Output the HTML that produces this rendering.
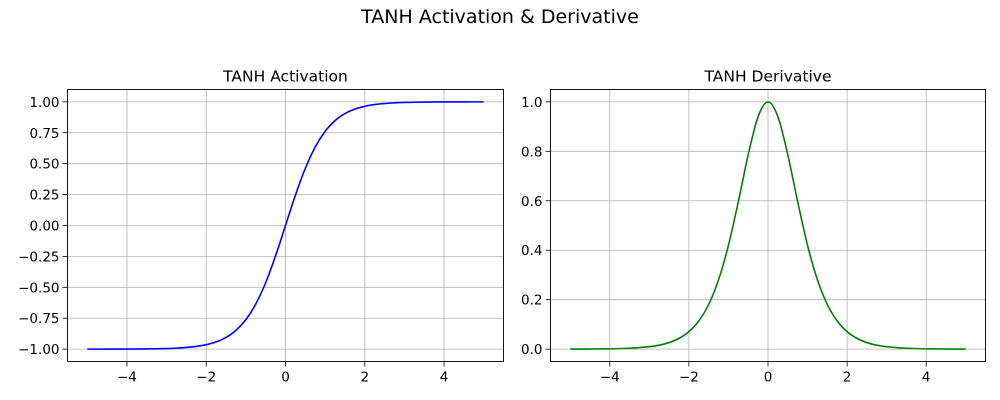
<!DOCTYPE html>
<html><head><meta charset="utf-8"><style>
html,body{margin:0;padding:0;background:#fff;}
svg{display:block;font-family:"DejaVu Sans","Liberation Sans",sans-serif;}
</style></head><body>
<svg id="fig" width="1000" height="400" viewBox="0 0 1000 400">
<text x="500" y="23" font-size="19" text-anchor="middle">TANH Activation &amp; Derivative</text>
</svg>
<script>
const xs = [-5,-4.5,-4,-3.5,-3,-2.75,-2.5,-2.25,-2,-1.75,-1.5,-1.25,-1,-0.75,-0.5,-0.25,0,0.25,0.5,0.75,1,1.25,1.5,1.75,2,2.25,2.5,2.75,3,3.5,4,4.5,5];
const tanhVals = [-0.9999,-0.9998,-0.9993,-0.9982,-0.9951,-0.9919,-0.9866,-0.9780,-0.9640,-0.9414,-0.9051,-0.8483,-0.7616,-0.6351,-0.4621,-0.2449,0,0.2449,0.4621,0.6351,0.7616,0.8483,0.9051,0.9414,0.9640,0.9780,0.9866,0.9919,0.9951,0.9982,0.9993,0.9998,0.9999];
const derivVals = [0.0002,0.0005,0.0013,0.0036,0.0099,0.0161,0.0266,0.0435,0.0707,0.1138,0.1807,0.2805,0.4200,0.5966,0.7864,0.9400,1,0.9400,0.7864,0.5966,0.4200,0.2805,0.1807,0.1138,0.0707,0.0435,0.0266,0.0161,0.0099,0.0036,0.0013,0.0005,0.0002];
const xTicks = [-4,-2,0,2,4];
const yTicksLeft = [-1,-0.75,-0.5,-0.25,0,0.25,0.5,0.75,1];
const yTicksRight = [0,0.2,0.4,0.6,0.8,1];

const NS="http://www.w3.org/2000/svg";
const fig=document.getElementById('fig');
function mk(tag,attrs,parent){const e=document.createElementNS(NS,tag);for(const k in attrs)e.setAttribute(k,attrs[k]);(parent||fig).appendChild(e);return e;}
function minus(v,d){return (v<0?'\u2212':'')+Math.abs(v).toFixed(d);}

function panel(cfg){
  const {left,right,top,bottom,xmin,xmax,ymin,ymax,ys,color,title,yTicks,dec,prefix}=cfg;
  const sx=v=>left+(v-xmin)/(xmax-xmin)*(right-left);
  const sy=v=>bottom-(v-ymin)/(ymax-ymin)*(bottom-top);
  const g=mk('g',{});
  
  
  xTicks.forEach(t=>{
    const l=mk('line',{x1:sx(t),x2:sx(t),y1:top,y2:bottom,stroke:'#b0b0b0','stroke-width':0.8},g);
    
    
    mk('line',{x1:sx(t),x2:sx(t),y1:bottom,y2:bottom+5,stroke:'#000','stroke-width':0.8},g);
    const tx=mk('text',{x:sx(t),y:bottom+20,'font-size':13.5,'text-anchor':'middle'},g);
    tx.textContent=minus(t,0);
    
    
  });
  yTicks.forEach(t=>{
    const l=mk('line',{x1:left,x2:right,y1:sy(t),y2:sy(t),stroke:'#b0b0b0','stroke-width':0.8},g);
    
    
    mk('line',{x1:left-5,x2:left,y1:sy(t),y2:sy(t),stroke:'#000','stroke-width':0.8},g);
    const tx=mk('text',{x:left-8,y:sy(t)+5,'font-size':13.5,'text-anchor':'end'},g);
    tx.textContent=minus(t,dec);
    
    
  });
  // smooth path (Catmull-Rom)
  const pts=xs.map((x,i)=>[sx(x),sy(ys[i])]);
  let d='M'+pts[0][0]+','+pts[0][1];
  for(let i=0;i<pts.length-1;i++){
    const p0=pts[Math.max(0,i-1)],p1=pts[i],p2=pts[i+1],p3=pts[Math.min(pts.length-1,i+2)];
    const c1=[p1[0]+(p2[0]-p0[0])/6,p1[1]+(p2[1]-p0[1])/6];
    const c2=[p2[0]-(p3[0]-p1[0])/6,p2[1]-(p3[1]-p1[1])/6];
    d+=` C${c1[0]},${c1[1]} ${c2[0]},${c2[1]} ${p2[0]},${p2[1]}`;
  }
  const path=mk('path',{d,fill:'none',stroke:color,'stroke-width':1.6},g);
  
  
  const fr=mk('rect',{x:left,y:top,width:right-left,height:bottom-top,fill:'none',stroke:'#000','stroke-width':0.9},g);
  
  
  const tt=mk('text',{x:(left+right)/2,y:top-8,'font-size':15.5,'text-anchor':'middle'},g);
  tt.textContent=title;
  
  
}
panel({left:67.5,right:503.5,top:89.5,bottom:361.5,xmin:-5.5,xmax:5.5,ymin:-1.1,ymax:1.1,ys:tanhVals,color:'#0000ff',title:'TANH Activation',yTicks:yTicksLeft,dec:2,prefix:'activation'});
panel({left:550.5,right:985.5,top:89.5,bottom:361.5,xmin:-5.5,xmax:5.5,ymin:-0.05,ymax:1.05,ys:derivVals,color:'#008000',title:'TANH Derivative',yTicks:yTicksRight,dec:1,prefix:'derivative'});
</script>
</body></html>
